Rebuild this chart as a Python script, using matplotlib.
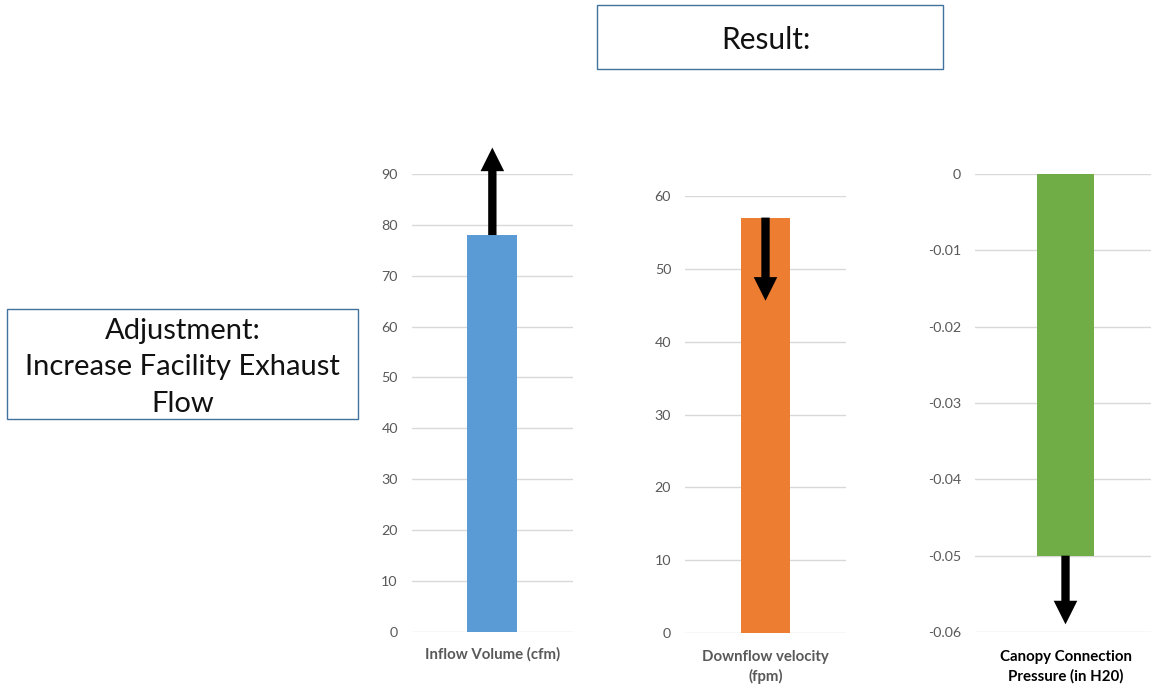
import matplotlib.pyplot as plt
from matplotlib.patches import Rectangle
from matplotlib.ticker import FuncFormatter, MultipleLocator

plt.rcParams['font.family'] = ['Lato', 'DejaVu Sans']
plt.rcParams['axes.unicode_minus'] = False

W, H = 1151, 688

# Chart data
labels = ['Inflow Volume (cfm)', 'Downflow velocity\n(fpm)', 'Canopy Connection\nPressure (in H20)']
values = [78, 57, -0.05]
arrow_ends = [95.2, 45.6, -0.059]
y_limits = [(0, 90), (0, 60), (-0.06, 0)]
y_steps = [10, 10, 0.01]
bar_colors = ['#5B9BD5', '#ED7D31', '#70AD47']
label_colors = ['#595959', '#595959', '#000000']

adjustment_text = 'Adjustment:\nIncrease Facility Exhaust\nFlow'
result_text = 'Result:'

# panel placement in pixels: left, top, right, bottom
panel_px = [(411.7, 174, 573, 631.7),
            (685, 195.7, 846, 633.3),
            (975, 174, 1156, 632)]
label_pads = [11, 12, 13]


def to_fig(left, top, right, bottom):
    return [left / W, 1 - bottom / H, (right - left) / W, (bottom - top) / H]


def fmt_tick(v, pos):
    if abs(v) < 1e-12:
        return '0'
    if abs(v) < 1:
        return f'{v:.2f}'
    return f'{v:.0f}'


fig = plt.figure(figsize=(W / 100, H / 100), dpi=100)

for i in range(3):
    ax = fig.add_axes(to_fig(*panel_px[i]))
    ax.bar([0], [values[i]], width=0.31, color=bar_colors[i], zorder=2)
    ax.set_xlim(-0.5, 0.5)
    ax.set_ylim(*y_limits[i])
    ax.yaxis.set_major_locator(MultipleLocator(y_steps[i]))
    ax.yaxis.set_major_formatter(FuncFormatter(fmt_tick))
    ax.grid(axis='y', color='#D9D9D9', linewidth=1)
    ax.set_axisbelow(True)
    for s in ax.spines.values():
        s.set_visible(False)
    ax.set_xticks([0])
    ax.set_xticklabels([labels[i]], fontweight='bold', fontsize=10.8,
                       color=label_colors[i], linespacing=1.45)
    ax.tick_params(axis='x', length=0, pad=label_pads[i])
    ax.tick_params(axis='y', length=0, pad=10, labelsize=10.3, labelcolor='#595959')

    # direction arrow from the bar end
    ax.annotate('', xy=(0, arrow_ends[i]), xytext=(0, values[i]),
                arrowprops=dict(arrowstyle='simple,head_length=0.85,head_width=0.85,tail_width=0.3',
                                fc='black', ec='none', shrinkA=0, shrinkB=0,
                                mutation_scale=20),
                annotation_clip=False, zorder=5)

# text boxes
box_color = '#41719C'
adj_box = to_fig(7.3, 309.3, 358.3, 419.3)
fig.add_artist(Rectangle((adj_box[0], adj_box[1]), adj_box[2], adj_box[3],
                         transform=fig.transFigure, fill=False,
                         edgecolor=box_color, linewidth=1))
fig.text(adj_box[0] + adj_box[2] / 2, adj_box[1] + adj_box[3] / 2 - 0.004, adjustment_text,
         ha='center', va='center', fontsize=21, linespacing=1.5, color='#111111')

res_box = to_fig(596.7, 5, 942.7, 69.3)
fig.add_artist(Rectangle((res_box[0], res_box[1]), res_box[2], res_box[3],
                         transform=fig.transFigure, fill=False,
                         edgecolor=box_color, linewidth=1))
fig.text(res_box[0] + res_box[2] / 2 - 0.003, res_box[1] + res_box[3] / 2 - 0.004, result_text,
         ha='center', va='center', fontsize=21.5, color='#111111')

fig.savefig('out.png', dpi=100)
